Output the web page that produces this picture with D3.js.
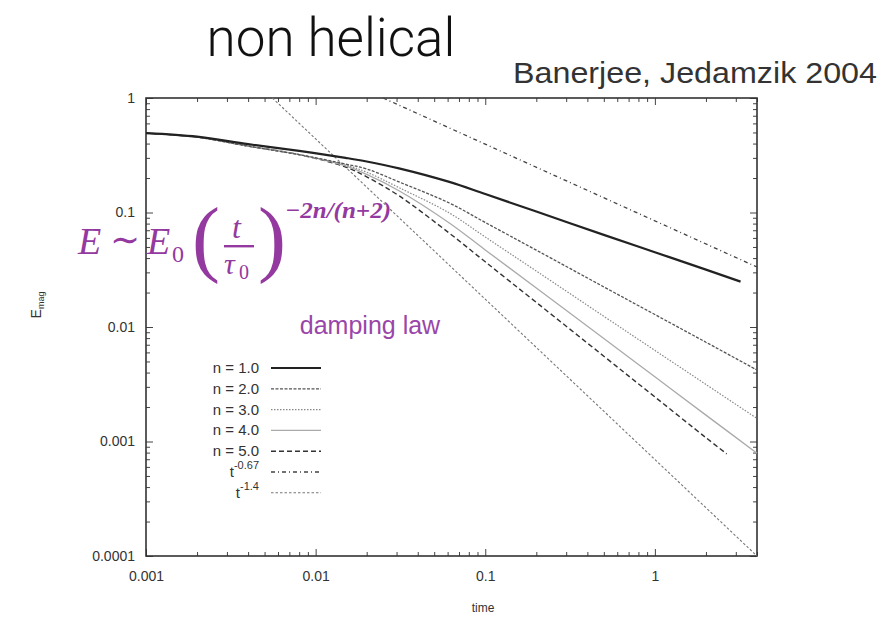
<!DOCTYPE html>
<html>
<head>
<meta charset="utf-8">
<script src="https://cdn.jsdelivr.net/npm/d3@7"></script>
<style>
  body { margin: 0; background: #fff; }
</style>
</head>
<body>
<div id="chart"></div>
<script>
// Energy decay, non helical case (Banerjee & Jedamzik 2004)
const times = [0.001, 0.002, 0.004, 0.008, 0.015, 0.02, 0.031, 0.0614, 0.1, 0.2, 0.5, 1, 2, 4];

const seriesN1 = [0.494, 0.46, 0.395, 0.345, 0.30, 0.279, 0.243, 0.185, 0.145, 0.102, 0.0638, 0.045, 0.0317, null];
const seriesN2 = [0.494, 0.455, 0.38, 0.32, 0.265, 0.24, 0.185, 0.121, 0.0818, 0.0469, 0.0224, 0.01285, 0.00736, 0.00421];
const seriesN3 = [0.494, 0.455, 0.38, 0.32, 0.26, 0.225, 0.165, 0.099, 0.0611, 0.0308, 0.0124, 0.00625, 0.00315, 0.00159];
const seriesN4 = [0.494, 0.455, 0.38, 0.32, 0.255, 0.215, 0.155, 0.081, 0.0471, 0.0219, 0.00792, 0.00367, 0.0017, 0.00079];
const seriesN5 = [0.494, 0.455, 0.38, 0.32, 0.25, 0.205, 0.14, 0.066, 0.0371, 0.0164, 0.00556, 0.00245, 0.00108, null];
// last points that do not sit on the common grid
const n1End = [3.2, 0.0249];
const n5End = [2.65, 0.00078];

// power law guides (end points)
const guide067 = [[0.025, 1], [4, 0.0334]];
const guide14 = [[0.00556, 1], [4, 0.0001]];

const legendLabels = ["n = 1.0", "n = 2.0", "n = 3.0", "n = 4.0", "n = 5.0", "t^-0.67", "t^-1.4"];
const xMajor = [0.001, 0.01, 0.1, 1];
const xLabels = ["0.001", "0.01", "0.1", "1"];
const yMajor = [0.0001, 0.001, 0.01, 0.1, 1];
const yLabels = ["0.0001", "0.001", "0.01", "0.1", "1"];

const width = 884, height = 617;
const frame = { left: 146, right: 757, top: 98, bottom: 556 };

const svg = d3.select("#chart").append("svg")
  .attr("width", width)
  .attr("height", height)
  .attr("font-family", "'Liberation Sans', Arial, sans-serif");

const x = d3.scaleLog().domain([0.001, 4]).range([frame.left, frame.right]);
const y = d3.scaleLog().domain([0.0001, 1]).range([frame.bottom, frame.top]);

// minor ticks
const xMinor = [];
[0.001, 0.01, 0.1, 1].forEach(d => {
  for (let k = 2; k <= 9; k++) if (d * k <= 4) xMinor.push(d * k);
});
const yMinor = [];
[0.0001, 0.001, 0.01, 0.1].forEach(d => {
  for (let k = 2; k <= 9; k++) yMinor.push(d * k);
});

function styleAxis(g) {
  g.select(".domain").remove();
  g.selectAll("line").attr("stroke", "#444").attr("stroke-width", 1);
  g.selectAll("text")
    .attr("font-family", "'Liberation Sans', Arial, sans-serif")
    .attr("font-size", 14)
    .attr("fill", "#333");
}

// bottom
svg.append("g").attr("transform", `translate(0,${frame.bottom})`)
  .call(d3.axisBottom(x).tickValues(xMajor).tickSize(-7).tickPadding(15)
    .tickFormat((d, i) => xLabels[i]))
  .call(styleAxis);
svg.append("g").attr("transform", `translate(0,${frame.bottom})`)
  .call(d3.axisBottom(x).tickValues(xMinor).tickSize(-4).tickFormat(""))
  .call(styleAxis);
// top
svg.append("g").attr("transform", `translate(0,${frame.top})`)
  .call(d3.axisTop(x).tickValues(xMajor).tickSize(-7).tickFormat(""))
  .call(styleAxis);
svg.append("g").attr("transform", `translate(0,${frame.top})`)
  .call(d3.axisTop(x).tickValues(xMinor).tickSize(-4).tickFormat(""))
  .call(styleAxis);
// left
svg.append("g").attr("transform", `translate(${frame.left},0)`)
  .call(d3.axisLeft(y).tickValues(yMajor).tickSize(-7).tickPadding(11)
    .tickFormat((d, i) => yLabels[i]))
  .call(styleAxis);
svg.append("g").attr("transform", `translate(${frame.left},0)`)
  .call(d3.axisLeft(y).tickValues(yMinor).tickSize(-4).tickFormat(""))
  .call(styleAxis);
// right
svg.append("g").attr("transform", `translate(${frame.right},0)`)
  .call(d3.axisRight(y).tickValues(yMajor).tickSize(-7).tickFormat(""))
  .call(styleAxis);
svg.append("g").attr("transform", `translate(${frame.right},0)`)
  .call(d3.axisRight(y).tickValues(yMinor).tickSize(-4).tickFormat(""))
  .call(styleAxis);

// frame
svg.append("rect")
  .attr("x", frame.left).attr("y", frame.top)
  .attr("width", frame.right - frame.left).attr("height", frame.bottom - frame.top)
  .attr("fill", "none")
  .attr("stroke", "#333")
  .attr("stroke-width", 1.6);

// line styles for legend order
const styles = [
  { stroke: "#222", width: 2.2, dash: null },
  { stroke: "#555", width: 1.3, dash: "3,1.5" },
  { stroke: "#888", width: 1.2, dash: "1.5,1.5" },
  { stroke: "#aaa", width: 1.3, dash: null },
  { stroke: "#333", width: 1.4, dash: "5,3" },
  { stroke: "#444", width: 1.3, dash: "4,3,1,3" },
  { stroke: "#777", width: 1.1, dash: "2.5,2" }
];

function toPoints(vals, extra) {
  const pts = times.map((t, i) => [t, vals[i]]).filter(p => p[1] != null);
  if (extra) pts.push(extra);
  return pts;
}

const curves = [
  toPoints(seriesN1, n1End),
  toPoints(seriesN2),
  toPoints(seriesN3),
  toPoints(seriesN4),
  toPoints(seriesN5, n5End),
  guide067,
  guide14
];

const line = d3.line()
  .x(d => x(d[0]))
  .y(d => y(d[1]))
  .curve(d3.curveCatmullRom.alpha(0.5));

const plot = svg.append("g");
// draw guides first, then n curves (n=1 on top)
[6, 5, 4, 3, 2, 1, 0].forEach(i => {
  plot.append("path")
    .datum(curves[i])
    .attr("d", line)
    .attr("fill", "none")
    .attr("stroke", styles[i].stroke)
    .attr("stroke-width", styles[i].width)
    .attr("stroke-dasharray", styles[i].dash);
});

// legend
const legend = svg.append("g");
const rowY = i => 368 + i * 20.8;
legendLabels.forEach((lab, i) => {
  const t = legend.append("text")
    .attr("x", 259)
    .attr("y", rowY(i) + 5)
    .attr("text-anchor", "end")
    .attr("font-size", 15)
    .attr("fill", "#333");
  if (lab.startsWith("t^")) {
    t.append("tspan").text("t");
    t.append("tspan").attr("dy", -8).attr("font-size", 11).text(lab.slice(2));
  } else {
    t.text(lab);
  }
  legend.append("line")
    .attr("x1", 271).attr("x2", 321)
    .attr("y1", rowY(i)).attr("y2", rowY(i))
    .attr("stroke", styles[i].stroke)
    .attr("stroke-width", styles[i].width)
    .attr("stroke-dasharray", styles[i].dash);
});

// axis titles
svg.append("text")
  .attr("x", 483).attr("y", 612)
  .attr("text-anchor", "middle")
  .attr("font-size", 12)
  .attr("fill", "#333")
  .text("time");

const yt = svg.append("text")
  .attr("transform", "translate(41,305) rotate(-90)")
  .attr("text-anchor", "middle")
  .attr("font-size", 14)
  .attr("fill", "#333");
yt.append("tspan").text("E");
yt.append("tspan").attr("dy", 3).attr("font-size", 9).text("mag");

// titles
svg.append("text")
  .attr("x", 331).attr("y", 56)
  .attr("text-anchor", "middle")
  .attr("font-family", "Roboto, 'Liberation Sans', sans-serif")
  .attr("font-weight", 300)
  .attr("font-size", 53)
  .attr("fill", "#111")
  .text("non helical");

svg.append("text")
  .attr("x", 877).attr("y", 83)
  .attr("text-anchor", "end")
  .attr("font-size", 29)
  .attr("textLength", 364)
  .attr("lengthAdjust", "spacingAndGlyphs")
  .attr("fill", "#333")
  .text("Banerjee, Jedamzik 2004");

// damping law formula
const purple = "#94399f";
const f = svg.append("g").attr("fill", purple)
  .attr("font-family", "'Liberation Serif', 'DejaVu Serif', serif");
f.append("text").attr("x", 78).attr("y", 254)
  .attr("font-size", 38).attr("font-style", "italic").text("E");
f.append("text").attr("x", 110).attr("y", 252)
  .attr("font-size", 36).text("∼");
f.append("text").attr("x", 147).attr("y", 254)
  .attr("font-size", 38).attr("font-style", "italic").text("E");
f.append("text").attr("x", 172).attr("y", 262)
  .attr("font-size", 24).text("0");
f.append("text").attr("x", 192).attr("y", 266)
  .attr("font-size", 84).attr("font-weight", 300).text("(");
f.append("text").attr("x", 232).attr("y", 238)
  .attr("font-size", 32).attr("font-style", "italic").text("t");
f.append("rect").attr("x", 224).attr("y", 245).attr("width", 30).attr("height", 2.4);
f.append("text").attr("x", 224).attr("y", 274)
  .attr("font-size", 30).attr("font-style", "italic").text("τ");
f.append("text").attr("x", 239).attr("y", 279)
  .attr("font-size", 20).text("0");
f.append("text").attr("x", 258).attr("y", 266)
  .attr("font-size", 84).attr("font-weight", 300).text(")");
f.append("text").attr("x", 285).attr("y", 218)
  .attr("font-size", 23).attr("font-weight", "bold").attr("font-style", "italic")
  .attr("textLength", 106).attr("lengthAdjust", "spacingAndGlyphs")
  .text("−2n/(n+2)");

svg.append("text")
  .attr("x", 370).attr("y", 334)
  .attr("text-anchor", "middle")
  .attr("font-size", 25)
  .attr("fill", "#9a46a8")
  .text("damping law");
</script>
</body>
</html>
